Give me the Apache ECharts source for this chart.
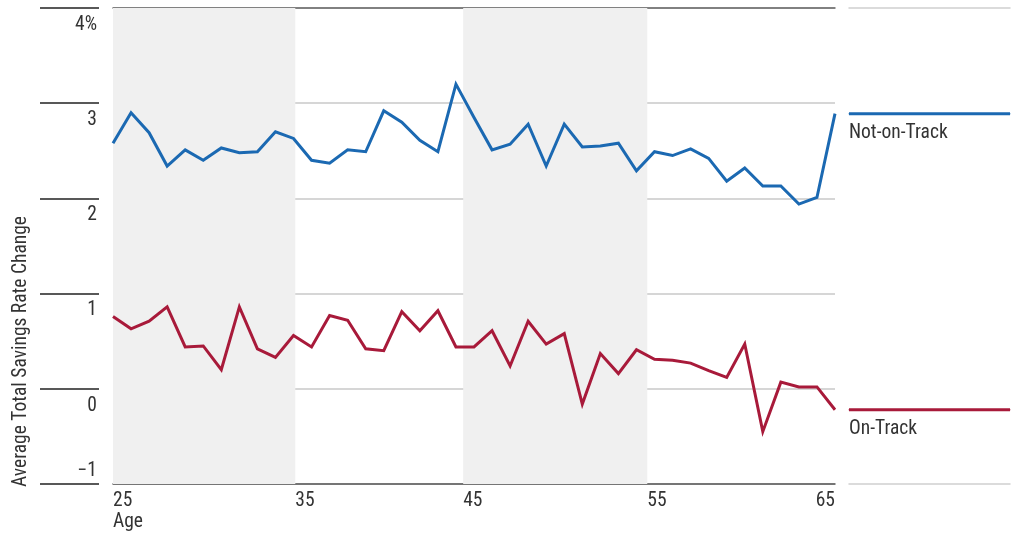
<!DOCTYPE html>
<html>
<head>
<meta charset="utf-8">
<script src="https://cdn.jsdelivr.net/npm/echarts@6/dist/echarts.min.js"></script>
<style>
  html, body { margin: 0; padding: 0; background: #fff; }
  #chart { width: 1017px; height: 548px; }
</style>
</head>
<body>
<div id="chart"></div>
<script>
var FONT = '"Roboto Condensed", "Liberation Sans Narrow", "Arial Narrow", "DejaVu Sans Condensed", sans-serif';
var FS = 19.5;

// ages 25..65
var ages = [];
for (var a = 25; a <= 65; a++) ages.push(a);

var notOnTrack = [2.58, 2.90, 2.69, 2.34, 2.51, 2.40, 2.53, 2.48, 2.49, 2.70,
                  2.63, 2.40, 2.37, 2.51, 2.49, 2.92, 2.80, 2.61, 2.49, 3.20,
                  2.85, 2.51, 2.57, 2.78, 2.34, 2.78, 2.54, 2.55, 2.58, 2.29,
                  2.49, 2.45, 2.52, 2.42, 2.18, 2.32, 2.13, 2.13, 1.94, 2.01,
                  2.89];
var onTrack = [0.76, 0.63, 0.71, 0.86, 0.44, 0.45, 0.20, 0.86, 0.42, 0.33,
               0.56, 0.44, 0.77, 0.72, 0.42, 0.40, 0.81, 0.61, 0.82, 0.44,
               0.44, 0.61, 0.24, 0.71, 0.47, 0.58, -0.16, 0.37, 0.16, 0.41,
               0.31, 0.30, 0.27, 0.19, 0.12, 0.47, -0.45, 0.07, 0.02, 0.02,
               -0.22];

var seriesNames = ['Not-on-Track', 'On-Track'];
var seriesColors = ['#1b69b2', '#a81a3a'];

// shaded age ranges (as drawn in the picture)
var shadedBands = [[24.9, 35.1], [44.4, 54.6]];
var ageTickLabels = ['25', '35', '45', '55', '65'];
var ageTickValues = [25, shadedBands[0][1], shadedBands[1][0], shadedBands[1][1], 65];

var yTicks = [-1, 0, 1, 2, 3, 4];

function pairs(vals) {
  return vals.map(function (v, i) { return [ages[i], v]; });
}

function ageLabel(v) {
  for (var i = 0; i < ageTickValues.length; i++) {
    if (Math.abs(ageTickValues[i] - v) < 0.3) return ageTickLabels[i];
  }
  return '';
}

var chart = echarts.init(document.getElementById('chart'));

var mainSeries = [notOnTrack, onTrack].map(function (vals, i) {
  return {
    name: seriesNames[i],
    type: 'line',
    xAxisIndex: 0,
    yAxisIndex: 0,
    data: pairs(vals),
    showSymbol: false,
    symbol: 'none',
    z: 3,
    lineStyle: { color: seriesColors[i], width: 3, cap: 'butt', join: 'miter' },
    itemStyle: { color: seriesColors[i] }
  };
});

var keySeries = [notOnTrack, onTrack].map(function (vals, i) {
  var last = vals[vals.length - 1];
  return {
    type: 'line',
    xAxisIndex: 2,
    yAxisIndex: 1,
    symbol: 'circle',
    symbolSize: 1,
    showSymbol: true,
    lineStyle: { color: seriesColors[i], width: 3, cap: 'butt' },
    itemStyle: { color: seriesColors[i] },
    data: [
      { value: [0, last], label: { show: true, formatter: seriesNames[i] } },
      { value: [1, last] }
    ],
    label: {
      position: 'bottom',
      distance: 9,
      align: 'left',
      color: '#333',
      fontFamily: FONT,
      fontSize: FS
    }
  };
});

var bandSeries = {
  type: 'line',
  xAxisIndex: 0,
  yAxisIndex: 0,
  data: [],
  z: 0,
  silent: true,
  markArea: {
    silent: true,
    itemStyle: { color: '#f0f0f0' },
    data: shadedBands.map(function (b) { return [{ xAxis: b[0] }, { xAxis: b[1] }]; })
  }
};

var option = {
  animation: false,
  backgroundColor: '#fff',
  textStyle: { fontFamily: FONT },
  grid: [
    { left: 113, right: 182, top: 8, bottom: 64, outerBoundsMode: 'none', containLabel: false },
    { left: 849, right: 7, top: 8, bottom: 64, outerBoundsMode: 'none', containLabel: false }
  ],
  xAxis: [
    {
      gridIndex: 0, type: 'value', min: 25, max: 65, position: 'bottom',
      name: 'Age', nameLocation: 'start', nameGap: 0,
      nameTextStyle: { align: 'left', verticalAlign: 'top', padding: [28, 0, 0, 0], color: '#333', fontSize: FS, fontFamily: FONT },
      axisLine: { show: true, onZero: false, lineStyle: { color: '#555', width: 1.5 } },
      axisTick: { show: false },
      splitLine: { show: false },
      axisLabel: {
        customValues: ageTickValues,
        formatter: ageLabel,
        align: 'left',
        alignMaxLabel: 'right',
        margin: 7, color: '#333', fontSize: FS, fontFamily: FONT
      }
    },
    {
      gridIndex: 0, type: 'value', min: 25, max: 65, position: 'top',
      axisLine: { show: true, onZero: false, lineStyle: { color: '#666', width: 1.5 } },
      axisTick: { show: false }, axisLabel: { show: false }, splitLine: { show: false }
    },
    {
      gridIndex: 1, type: 'value', min: 0, max: 1, position: 'bottom',
      axisLine: { show: true, onZero: false, lineStyle: { color: '#cfcfcf', width: 1.5 } },
      axisTick: { show: false }, axisLabel: { show: false }, splitLine: { show: false }
    },
    {
      gridIndex: 1, type: 'value', min: 0, max: 1, position: 'top',
      axisLine: { show: true, onZero: false, lineStyle: { color: '#cfcfcf', width: 1.5 } },
      axisTick: { show: false }, axisLabel: { show: false }, splitLine: { show: false }
    }
  ],
  yAxis: [
    {
      gridIndex: 0, type: 'value', min: yTicks[0], max: yTicks[yTicks.length - 1], interval: 1,
      offset: 14,
      axisLine: { show: false },
      axisTick: { show: true, length: 59, lineStyle: { color: '#222', width: 1.5 } },
      splitLine: { show: true, lineStyle: { color: '#c8c8c8', width: 1.5 } },
      axisLabel: {
        margin: 2,
        color: '#333',
        fontSize: FS,
        fontFamily: FONT,
        formatter: function (v) {
          if (v === 4) return '{dn|4%}';
          if (v < 0) return '{up|\u2212' + Math.abs(v) + '}';
          return '{dn|' + v + '}';
        },
        rich: {
          dn: { padding: [34, 0, 0, 0], fontSize: FS, color: '#333', fontFamily: FONT },
          up: { padding: [0, 0, 25, 0], fontSize: FS, color: '#333', fontFamily: FONT }
        }
      }
    },
    {
      gridIndex: 1, type: 'value', min: yTicks[0], max: yTicks[yTicks.length - 1], interval: 1,
      show: false
    }
  ],
  graphic: [
    {
      type: 'text',
      x: 21,
      y: 487,
      rotation: Math.PI / 2,
      style: {
        text: 'Average Total Savings Rate Change',
        fill: '#333',
        font: FS + 'px ' + FONT,
        textAlign: 'left',
        textVerticalAlign: 'middle'
      }
    }
  ],
  series: [bandSeries].concat(mainSeries, keySeries)
};

chart.setOption(option);
</script>
</body>
</html>
